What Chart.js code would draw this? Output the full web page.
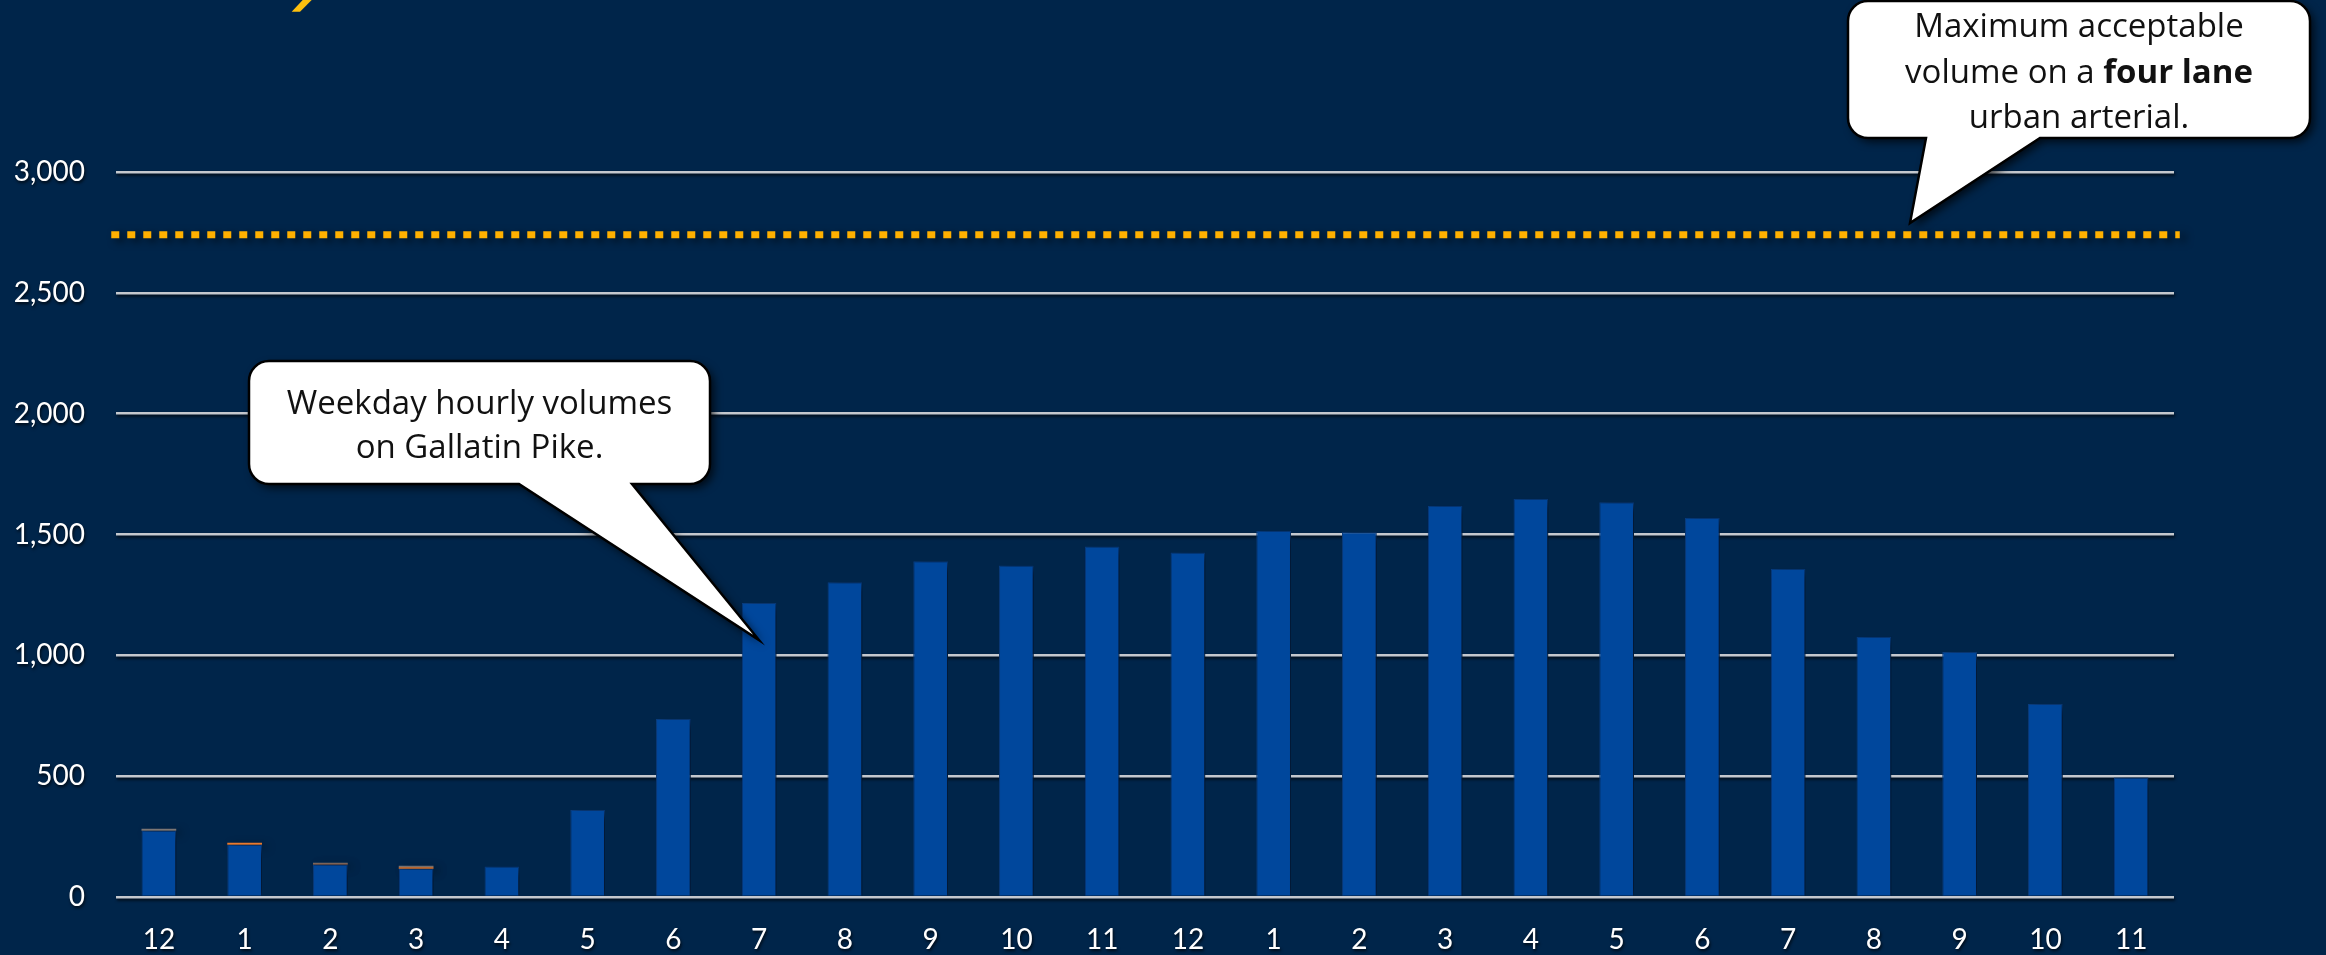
<!DOCTYPE html>
<html>
<head>
<meta charset="utf-8">
<style>
  html, body { margin: 0; padding: 0; background: #00254A; }
  #wrap { width: 2326px; height: 955px; }
  canvas { display: block; }
</style>
<script src="https://cdn.jsdelivr.net/npm/chart.js@4/dist/chart.umd.min.js"></script>
</head>
<body>
<div id="wrap"><canvas id="c" width="2326" height="955"></canvas></div>
<script>
// Hour-of-day labels (midnight through 11 PM)
const hours = ['12','1','2','3','4','5','6','7','8','9','10','11',
               '12','1','2','3','4','5','6','7','8','9','10','11'];

// Weekday hourly volumes on Gallatin Pike (vehicles per hour)
const gallatinVolumes = [274, 216, 134, 117, 126, 360, 737, 1217, 1302, 1389, 1372, 1450,
                         1426, 1516, 1509, 1619, 1648, 1633, 1569, 1358, 1077, 1014, 799, 495];
// Small additional counts stacked on the overnight hours
const extraCountsA = [0, 8, 4, 6, 0, 0, 0, 0, 0, 0, 0, 0, 0, 0, 0, 0, 0, 0, 0, 0, 0, 0, 0, 0];
const extraCountsB = [8, 0, 4, 6, 0, 0, 0, 0, 0, 0, 0, 0, 0, 0, 0, 0, 0, 0, 0, 0, 0, 0, 0, 0];

// Maximum acceptable volume on a four lane urban arterial
const capacityLimit = 2740;

// Value axis ticks
const yTicks = [0, 500, 1000, 1500, 2000, 2500, 3000];

const NAVY = '#00254A';
const BAR_BLUE = '#00479C';
const GOLD = '#FFB000';
const CALLOUT_FONT = '"Open Sans", "Liberation Sans", sans-serif';

// Soft drop shadows behind the scale lines, tick text and bars
const shadowPlugin = {
  id: 'shadows',
  beforeDraw(chart) {
    const ctx = chart.ctx;
    ctx.save();
    ctx.fillStyle = NAVY;
    ctx.fillRect(0, 0, chart.width, chart.height);
    ctx.restore();
    ctx.shadowColor = 'rgba(0,0,0,0.75)';
    ctx.shadowBlur = 3;
    ctx.shadowOffsetX = 1;
    ctx.shadowOffsetY = 2;
  },
  beforeDatasetsDraw(chart) {
    const ctx = chart.ctx;
    ctx.shadowColor = 'rgba(0,0,0,0.7)';
    ctx.shadowBlur = 9;
    ctx.shadowOffsetX = 5;
    ctx.shadowOffsetY = 3;
  },
  afterDatasetsDraw(chart) {
    const ctx = chart.ctx;
    ctx.shadowColor = 'rgba(0,0,0,0)';
    ctx.shadowBlur = 0;
    ctx.shadowOffsetX = 0;
    ctx.shadowOffsetY = 0;
  }
};

// Speech-bubble callout: rounded box with a pointed tail
function drawCallout(ctx, box, tail, lines) {
  const r = 20;
  const { x, y, w, h } = box;
  ctx.save();
  ctx.beginPath();
  ctx.moveTo(x + r, y);
  ctx.lineTo(x + w - r, y);
  ctx.arcTo(x + w, y, x + w, y + r, r);
  ctx.lineTo(x + w, y + h - r);
  ctx.arcTo(x + w, y + h, x + w - r, y + h, r);
  ctx.lineTo(tail.b2, y + h);
  ctx.lineTo(tail.tx, tail.ty);
  ctx.lineTo(tail.b1, y + h);
  ctx.lineTo(x + r, y + h);
  ctx.arcTo(x, y + h, x, y + h - r, r);
  ctx.lineTo(x, y + r);
  ctx.arcTo(x, y, x + r, y, r);
  ctx.closePath();
  ctx.shadowColor = 'rgba(0,0,0,0.7)';
  ctx.shadowBlur = 8;
  ctx.shadowOffsetX = 4;
  ctx.shadowOffsetY = 4;
  ctx.fillStyle = '#FFFFFF';
  ctx.fill();
  ctx.shadowColor = 'rgba(0,0,0,0)';
  ctx.lineWidth = 2.5;
  ctx.lineJoin = 'miter';
  ctx.strokeStyle = '#000000';
  ctx.stroke();

  ctx.fillStyle = '#111111';
  ctx.textBaseline = 'alphabetic';
  ctx.textAlign = 'left';
  const cx = x + w / 2;
  lines.forEach(line => {
    let total = 0;
    line.runs.forEach(run => {
      ctx.font = (run.bold ? 'bold ' : '') + '33px ' + CALLOUT_FONT;
      run.width = ctx.measureText(run.text).width;
      total += run.width;
    });
    let px = cx - total / 2;
    line.runs.forEach(run => {
      ctx.font = (run.bold ? 'bold ' : '') + '33px ' + CALLOUT_FONT;
      ctx.fillText(run.text, px, line.y);
      px += run.width;
    });
  });
  ctx.restore();
}

const calloutPlugin = {
  id: 'callouts',
  afterDraw(chart) {
    const ctx = chart.ctx;
    // gold accent from the heading
    ctx.save();
    ctx.fillStyle = '#FDC00F';
    ctx.beginPath();
    ctx.moveTo(302.7, 0);
    ctx.lineTo(311.7, 0);
    ctx.lineTo(300, 11.7);
    ctx.lineTo(291.7, 11.7);
    ctx.closePath();
    ctx.fill();
    ctx.restore();

    drawCallout(ctx,
      { x: 249, y: 361, w: 461, h: 123 },
      { b1: 519, b2: 632, tx: 759, ty: 640 },
      [
        { y: 414, runs: [{ text: 'Weekday hourly volumes' }] },
        { y: 458, runs: [{ text: 'on Gallatin Pike.' }] }
      ]);

    drawCallout(ctx,
      { x: 1848, y: 1, w: 462, h: 137 },
      { b1: 1926, b2: 2040, tx: 1910, ty: 223 },
      [
        { y: 37, runs: [{ text: 'Maximum acceptable' }] },
        { y: 83, runs: [{ text: 'volume on a ' }, { text: 'four lane', bold: true }] },
        { y: 128, runs: [{ text: 'urban arterial.' }] }
      ]);
  }
};

const barCommon = {
  type: 'bar',
  grouped: false,
  barPercentage: 0.405,
  categoryPercentage: 1,
  stack: 'v'
};

const ctx = document.getElementById('c').getContext('2d');
new Chart(ctx, {
  data: {
    labels: hours,
    datasets: [
      Object.assign({}, barCommon, {
        label: 'Weekday hourly volume',
        data: gallatinVolumes,
        backgroundColor: BAR_BLUE,
        borderColor: '#0A3E82',
        borderWidth: 1,
        order: 3
      }),
      Object.assign({}, barCommon, {
        label: 'Extra A',
        data: extraCountsA,
        backgroundColor: '#E97A2E',
        order: 4
      }),
      Object.assign({}, barCommon, {
        label: 'Extra B',
        data: extraCountsB,
        backgroundColor: '#7C7674',
        order: 5
      }),
      {
        type: 'line',
        label: 'Capacity',
        xAxisID: 'x2',
        stack: 'limit',
        data: [{ x: -0.0023, y: capacityLimit }, { x: 1.0028, y: capacityLimit }],
        borderColor: GOLD,
        borderWidth: 7,
        borderDash: [8, 8],
        borderCapStyle: 'butt',
        pointRadius: 0,
        fill: false,
        clip: false,
        order: 0
      }
    ]
  },
  options: {
    responsive: false,
    animation: false,
    devicePixelRatio: 1,
    layout: { padding: { top: 172, right: 152, bottom: 0, left: 0 } },
    plugins: {
      legend: { display: false },
      title: { display: false },
      tooltip: { enabled: false }
    },
    scales: {
      x: {
        stacked: true,
        grid: { display: false, drawTicks: false },
        border: { display: false },
        ticks: {
          color: '#FFFFFF',
          font: { family: 'Lato', size: 28 },
          padding: 26,
          maxRotation: 0,
          autoSkip: false
        },
        afterFit(scale) { scale.height = 58; }
      },
      x2: {
        type: 'linear',
        display: false,
        min: 0,
        max: 1
      },
      y: {
        stacked: true,
        min: 0,
        max: 3000,
        afterBuildTicks(scale) { scale.ticks = yTicks.map(v => ({ value: v })); },
        grid: { color: '#C4C8CE', lineWidth: 2.5, drawTicks: false },
        border: { display: false },
        ticks: {
          color: '#FFFFFF',
          font: { family: 'Lato', size: 28 },
          padding: 31,
          callback: v => v.toLocaleString('en-US')
        },
        afterFit(scale) { scale.width = 116; }
      }
    }
  },
  plugins: [shadowPlugin, calloutPlugin]
});
</script>
</body>
</html>
